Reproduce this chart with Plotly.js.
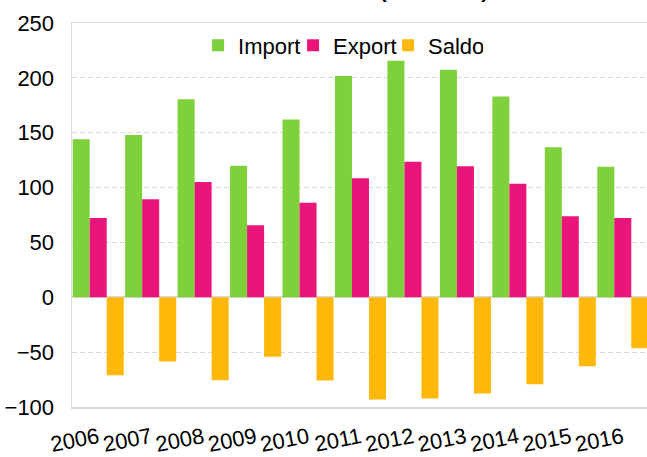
<!DOCTYPE html>
<html>
<head>
<meta charset="utf-8">
<script src="https://cdn.plot.ly/plotly-3.0.1.min.js"></script>
<style>
html,body{margin:0;padding:0;overflow:hidden;background:#fff;}
#chart{width:680px;height:457px;}
</style>
</head>
<body>
<div id="chart"></div>
<script>
const years = ['2006','2007','2008','2009','2010','2011','2012','2013','2014','2015','2016'];
const importVals = [144, 148, 180.5, 120, 162, 201.6, 215.6, 207.4, 182.9, 136.8, 118.9];
const exportVals = [72.3, 89.3, 105, 65.6, 86.2, 108.6, 123.5, 119.5, 103.5, 73.8, 72.3];
const saldoVals = [-71.1, -58.6, -75.6, -54.1, -75.9, -93.2, -92.3, -87.7, -79.3, -62.9, -46.5];
const seriesNames = ['Import', 'Export', 'Saldo'];
const colors = ['#7fd13b', '#ea157a', '#feb80a'];
const titleText = 'Außenhandel (Mrd. EUR)';

const FONT = 'Liberation Sans, Arial, sans-serif';
const traces = [importVals, exportVals, saldoVals].map((vals, i) => ({
  type: 'bar',
  name: seriesNames[i],
  x: years,
  y: vals,
  marker: {color: colors[i], line: {width: 0}},
  hoverinfo: 'skip'
}));

const layout = {
  width: 680,
  height: 457,
  margin: {l: 72.3, r: 31.3, t: 22.5, b: 49.5},
  paper_bgcolor: '#ffffff',
  plot_bgcolor: '#ffffff',
  font: {family: FONT, size: 22, color: '#000000'},
  barmode: 'group',
  bargap: 0.027,
  bargroupgap: 0,
  showlegend: true,
  legend: {
    orientation: 'h',
    x: 0.2185, xanchor: 'left',
    y: 0.9416, yanchor: 'middle',
    font: {family: FONT, size: 22, color: '#000'},
    bgcolor: 'rgba(0,0,0,0)',
    itemwidth: 30,
    entrywidth: 50,
    entrywidthmode: 'pixels',
    traceorder: 'normal'
  },
  xaxis: {
    type: 'category',
    tickangle: -11,
    showgrid: false,
    showline: true,
    mirror: true,
    linecolor: '#d9d9d9',
    linewidth: 1.5,
    ticks: '',
    ticklabelstandoff: 8,
    tickfont: {family: FONT, size: 22, color: '#000'},
    fixedrange: true
  },
  yaxis: {
    range: [-100, 250],
    dtick: 50,
    tick0: 0,
    showgrid: true,
    gridcolor: '#d9d9d9',
    gridwidth: 1,
    griddash: '5px,3px',
    zeroline: true,
    zerolinecolor: '#d9d9d9',
    zerolinewidth: 2,
    showline: true,
    mirror: true,
    linecolor: '#d9d9d9',
    linewidth: 1.5,
    ticks: '',
    ticklabelstandoff: 12,
    tickfont: {family: FONT, size: 22, color: '#000'},
    fixedrange: true
  },
  annotations: [{
    text: '<b>' + titleText + '</b>',
    xref: 'paper', yref: 'paper',
    x: 0.725, xanchor: 'right',
    y: 1.0485, yanchor: 'bottom',
    showarrow: false,
    font: {family: FONT, size: 21, color: '#000'}
  }]
};

Plotly.newPlot('chart', traces, layout, {displayModeBar: false, staticPlot: true});
</script>
</body>
</html>
